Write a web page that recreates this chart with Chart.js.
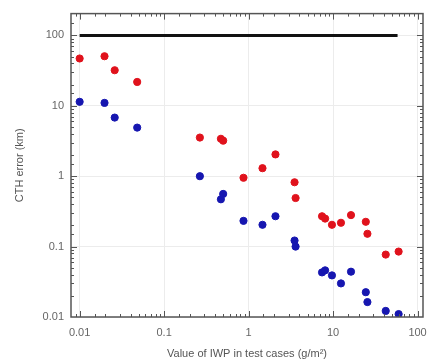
<!DOCTYPE html>
<html>
<head>
<meta charset="utf-8">
<script src="https://cdn.jsdelivr.net/npm/chart.js@4/dist/chart.umd.min.js"></script>
<style>
  html, body { margin: 0; padding: 0; background: #fff; overflow: hidden; }
</style>
</head>
<body>
<canvas id="chart" width="432" height="359"></canvas>
<script>
// IWP values of the test cases (g/m2)
const iwpValues = [0.01, 0.0197, 0.026, 0.048, 0.265, 0.47, 0.50, 0.87, 1.46, 2.08, 3.5, 3.6,
                   7.4, 8.05, 9.7, 12.4, 16.3, 24.4, 25.5, 42, 59.7];
// CTH error, red series (km)
const redErrors = [47, 50.6, 32, 21.8, 3.54, 3.4, 3.2, 0.95, 1.3, 2.04, 0.82, 0.49,
                   0.27, 0.25, 0.204, 0.218, 0.28, 0.225, 0.152, 0.077, 0.085];
// CTH error, blue series (km)
const blueErrors = [11.4, 11.0, 6.8, 4.9, 1.0, 0.47, 0.56, 0.232, 0.204, 0.27, 0.122, 0.1,
                    0.043, 0.046, 0.039, 0.030, 0.044, 0.0225, 0.0163, 0.0122, 0.011];
// reference line at 100 km
const refLineX = [0.01, 58];
const refLineY = [100, 100];

const xTickLabels = [0.01, 0.1, 1, 10, 100];
const yTickLabels = [0.01, 0.1, 1, 10, 100];

function isLabelled(list, v) {
    return list.some(t => Math.abs(Math.log10(v) - Math.log10(t)) < 1e-6);
}

function toPoints(xs, ys) {
    return xs.map((x, i) => ({ x: x, y: ys[i] }));
}

// inward tick marks on all four sides plus the frame
const frameTicks = {
    id: 'frameTicks',
    afterDraw(chart) {
        const ctx = chart.ctx;
        const a = chart.chartArea;
        const xs = chart.scales.x, ys = chart.scales.y;
        ctx.save();
        ctx.strokeStyle = '#555';
        ctx.lineWidth = 1;
        ctx.beginPath();
        xs.ticks.forEach(t => {
            const p = Math.round(xs.getPixelForValue(t.value)) + 0.5;
            if (p < a.left + 1 || p > a.right - 1) return;
            const len = isLabelled(xTickLabels, t.value) ? 6 : 3;
            ctx.moveTo(p, a.bottom); ctx.lineTo(p, a.bottom - len);
            ctx.moveTo(p, a.top); ctx.lineTo(p, a.top + len);
        });
        ys.ticks.forEach(t => {
            const p = Math.round(ys.getPixelForValue(t.value)) + 0.5;
            if (p < a.top + 1 || p > a.bottom - 1) return;
            const len = isLabelled(yTickLabels, t.value) ? 6 : 3;
            ctx.moveTo(a.left, p); ctx.lineTo(a.left + len, p);
            ctx.moveTo(a.right, p); ctx.lineTo(a.right - len, p);
        });
        ctx.stroke();
        ctx.lineWidth = 1.5;
        ctx.strokeRect(a.left, a.top, a.right - a.left, a.bottom - a.top);
        ctx.restore();
    }
};

const ctx = document.getElementById('chart').getContext('2d');
const chart = new Chart(ctx, {
    type: 'scatter',
    data: {
        datasets: [{
            type: 'line',
            data: toPoints(refLineX, refLineY),
            borderColor: '#111',
            borderWidth: 3,
            pointRadius: 0,
            fill: false
        }, {
            data: toPoints(iwpValues, redErrors),
            backgroundColor: '#e0121c',
            borderColor: '#e0121c',
            pointRadius: 3.6
        }, {
            data: toPoints(iwpValues, blueErrors),
            backgroundColor: '#1616b0',
            borderColor: '#1616b0',
            pointRadius: 3.6
        }]
    },
    options: {
        responsive: false,
        animation: false,
        maintainAspectRatio: false,
        layout: { padding: { left: 0, top: 10, right: 8, bottom: 0 } },
        plugins: { legend: { display: false }, tooltip: { enabled: false } },
        scales: {
            x: {
                type: 'logarithmic',
                min: 0.0079,
                max: 116,
                afterFit: s => { s.height = 42; },
                grid: {
                    drawTicks: false,
                    color: c => (c.tick && isLabelled(xTickLabels, c.tick.value)) ? '#ececec' : 'rgba(0,0,0,0)'
                },
                border: { display: false },
                ticks: {
                    autoSkip: false,
                    maxRotation: 0,
                    padding: 9,
                    color: '#666',
                    font: { family: 'Liberation Sans', size: 11 },
                    callback: v => isLabelled(xTickLabels, v) ? String(Number(v.toPrecision(1))) : ''
                },
                title: {
                    display: true,
                    text: 'Value of IWP in test cases (g/m²)',
                    color: '#555',
                    font: { family: 'Liberation Sans', size: 11, lineHeight: 1 },
                    padding: { top: 0, bottom: 0 }
                }
            },
            y: {
                type: 'logarithmic',
                min: 0.01,
                max: 204,
                afterFit: s => { s.width = 71; },
                grid: {
                    drawTicks: false,
                    color: c => (c.tick && isLabelled(yTickLabels, c.tick.value)) ? '#ececec' : 'rgba(0,0,0,0)'
                },
                border: { display: false },
                ticks: {
                    autoSkip: false,
                    padding: 7,
                    color: '#666',
                    font: { family: 'Liberation Sans', size: 11 },
                    callback: v => isLabelled(yTickLabels, v) ? String(Number(v.toPrecision(1))) : ''
                },
                title: {
                    display: true,
                    text: 'CTH error (km)',
                    color: '#555',
                    font: { family: 'Liberation Sans', size: 11 },
                    padding: { top: 13, bottom: 0 }
                }
            }
        }
    },
    plugins: [frameTicks]
});
</script>
</body>
</html>
